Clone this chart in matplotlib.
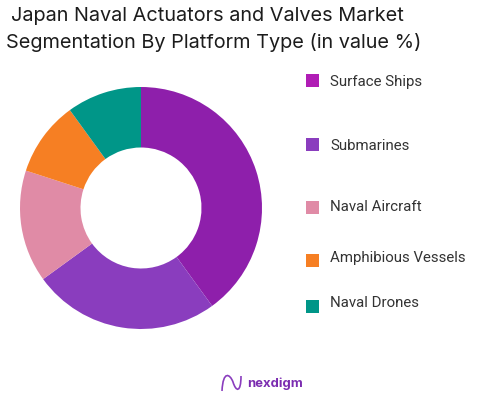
"""Donut del mercado japones de actuadores y valvulas navales, por tipo de plataforma."""
import matplotlib; matplotlib.use("Agg")
import matplotlib.pyplot as plt
from matplotlib.patches import Rectangle, PathPatch
from matplotlib.path import Path

W, H = 488, 401

TITLE_LINES = ["Japan Naval Actuators and Valves Market",
               "Segmentation By Platform Type (in value %)"]
SEGMENTS = ["Surface Ships", "Submarines", "Naval Aircraft", "Amphibious Vessels", "Naval Drones"]
VALUES = [40, 25, 15, 10, 10]
COLORS = ["#8E1FAB", "#8A3DBE", "#E08BA6", "#F67F23", "#009688"]
LEGEND_COLORS = ["#B01DB5", "#8A3DBE", "#E08BA6", "#F67F23", "#009688"]
# altura en pixeles de cada fila de la leyenda (no son equidistantes)
LEGEND_Y = [82, 146, 207, 258, 303]
SWATCH_Y = [80, 145, 207, 260, 306]

fig = plt.figure(figsize=(W / 100, H / 100), dpi=100, facecolor="white")

# ---- donut ----
cx, cy, r = 141, 208, 121
ax = fig.add_axes([(cx - r) / W, 1 - (cy + r) / H, 2 * r / W, 2 * r / H])
ax.pie(VALUES, colors=COLORS, startangle=90, counterclock=False, radius=1,
       wedgeprops=dict(width=0.5, linewidth=0))
ax.set_xlim(-1, 1); ax.set_ylim(-1, 1)
ax.set_aspect("equal")

# ---- titulo ----
fig.text(207.5 / W, 1 - 16 / H, TITLE_LINES[0], ha="center", va="center",
         fontsize=14.3, family="Inter", color="#1c1c1c")
fig.text(214 / W, 1 - 42 / H, TITLE_LINES[1], ha="center", va="center",
         fontsize=14.3, family="Inter", color="#1c1c1c")

# ---- leyenda ----
for name, col, y, sy in zip(SEGMENTS, LEGEND_COLORS, LEGEND_Y, SWATCH_Y):
    fig.add_artist(Rectangle((306 / W, 1 - (sy + 6.5) / H), 13 / W, 13 / H,
                             transform=fig.transFigure, facecolor=col, edgecolor="none"))
    fig.text(330 / W, 1 - y / H, name, ha="left", va="center",
             fontsize=10.85, family="Roboto", color="#333333")

# ---- logo ----
def px(x, y):
    return (x / W, 1 - y / H)

onda = Path([px(222, 391), px(223, 370), px(230, 374), px(233, 382),
             px(236, 392), px(241, 393), px(241, 376)],
            [Path.MOVETO, Path.CURVE4, Path.CURVE4, Path.CURVE4,
             Path.CURVE4, Path.CURVE4, Path.CURVE4])
fig.add_artist(PathPatch(onda, transform=fig.transFigure, facecolor="none",
                         edgecolor="#8A3DBE", linewidth=1.2))
fig.text(247 / W, 1 - 384 / H, "nexdigm", ha="left", va="center",
         fontsize=9.4, fontweight="bold", family="Inter", color="#7B2CB0")

fig.savefig("out.png", dpi=100)
